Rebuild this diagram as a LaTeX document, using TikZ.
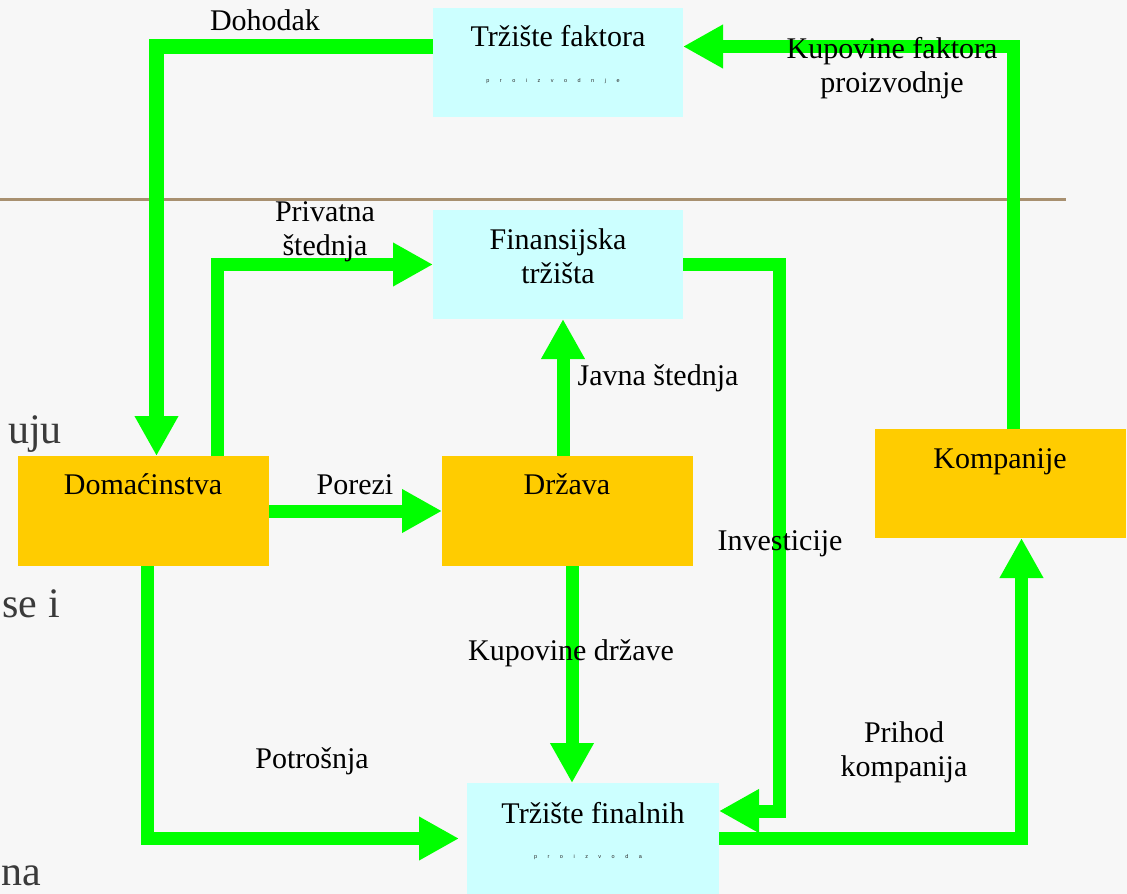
\documentclass[tikz,border=0pt]{standalone}
\usepackage{fontspec}
\setmainfont{Liberation Serif}
\newfontfamily\tinysans{Liberation Sans}
\usetikzlibrary{arrows.meta}
\definecolor{bgcol}{HTML}{F7F7F7}
\definecolor{cyanbox}{HTML}{CCFFFF}
\definecolor{orangebox}{HTML}{FFCC00}
\definecolor{flowgreen}{HTML}{00FF00}
\definecolor{rulecol}{HTML}{A89070}
\definecolor{fragcol}{HTML}{3A3A3A}
\newcommand\tgap{\hspace{10.5pt}}
\begin{document}
\begin{tikzpicture}[x=1pt,y=-1pt,
  cbox/.style={fill=cyanbox, draw=none, inner sep=0pt, outer sep=0pt},
  obox/.style={fill=orangebox, draw=none, inner sep=0pt, outer sep=0pt},
  flow/.style={draw=flowgreen, line width=13pt, line join=miter, line cap=butt,
               -{Triangle[length=40pt,width=41pt]}},
  lbl/.style={font=\fontsize{30}{34}\selectfont, inner sep=0pt, anchor=base, align=center},
  tiny/.style={font=\tinysans\fontsize{5.5}{6}\selectfont, text=black!85, inner sep=0pt, anchor=base},
  frag/.style={font=\fontsize{42}{46}\selectfont, text=fragcol, inner sep=0pt, anchor=base east}
]
\useasboundingbox (0,0) rectangle (1127,894);
\fill[bgcol] (0,0) rectangle (1127,894);

% background slide fragments
\node[frag] (f1) at (62,443) {uju};
\node[frag] (f2) at (60,617) {se i};
\node[frag] (f3) at (41,885) {na};

% rule
\draw[rulecol, line width=3pt] (0,199) -- (1066,199);

% boxes
\node[cbox, minimum width=250pt, minimum height=109pt] (fak) at (558,62.5) {};
\node[cbox, minimum width=250pt, minimum height=109pt] (fin) at (558,264.5) {};
\node[obox, minimum width=251pt, minimum height=110pt] (drz) at (567.5,511) {};
\node[obox, minimum width=251pt, minimum height=110pt] (dom) at (143.5,511) {};
\node[obox, minimum width=251pt, minimum height=109pt] (kom) at (1000.5,483.5) {};
\node[cbox, minimum width=252pt, minimum height=111pt] (finl) at (593,838.5) {};

% box texts
\node[lbl] (tfak) at (558,46) {Tržište faktora};
\node[tiny] (sfak) at (553,82) {p\tgap r\tgap o\tgap i\tgap z\tgap v\tgap o\tgap d\tgap n\tgap j\tgap e};
\node[lbl] (tfin) at (558,283) {Finansijska\\tržišta};
\node[lbl] (tdrz) at (567,494) {Država};
\node[lbl] (tdom) at (143,494) {Domaćinstva};
\node[lbl] (tkom) at (1000,468) {Kompanije};
\node[lbl] (tfinl) at (593,823) {Tržište finalnih};
\node[tiny] (sfinl) at (588,858) {p\tgap r\tgap o\tgap i\tgap z\tgap v\tgap o\tgap d\tgap a};

% flows
\draw[flow, line width=15pt] ([yshift=16pt]fak.west) -| ([xshift=138.5pt]dom.north west);
\draw[flow] ([xshift=199pt]dom.north west) |- (fin.west);
\draw[flow] (dom.east) -- (drz.west);
\draw[flow] ([xshift=-4.5pt]drz.north) -- ([xshift=5pt]fin.south);
\draw[flow] ([xshift=4.5pt]drz.south) -- ([xshift=-21pt]finl.north);
\draw[flow] (fin.east) -- ++(96.5,0) |- ([yshift=27.5pt]finl.east);
\draw[flow] ([xshift=12.5pt]kom.north) |- ([yshift=16pt]fak.east);
\draw[flow] (finl.east) -| ([xshift=21pt]kom.south);
\draw[flow, shorten >=8pt] ([xshift=4pt]dom.south) |- (finl.west);

% flow labels
\node[lbl] (ldoh) at (265,30) {Dohodak};
\node[lbl] (lkf) at (892,92) {Kupovine faktora\\proizvodnje};
\node[lbl] (lps) at (325,255) {Privatna\\štednja};
\node[lbl] (ljs) at (658,385) {Javna štednja};
\node[lbl] (lpor) at (355,494) {Porezi};
\node[lbl] (linv) at (780,550) {Investicije};
\node[lbl] (lkd) at (571,660) {Kupovine države};
\node[lbl] (lpk) at (904,776) {Prihod\\kompanija};
\node[lbl] (lpot) at (312,768) {Potrošnja};
\end{tikzpicture}
\end{document}
